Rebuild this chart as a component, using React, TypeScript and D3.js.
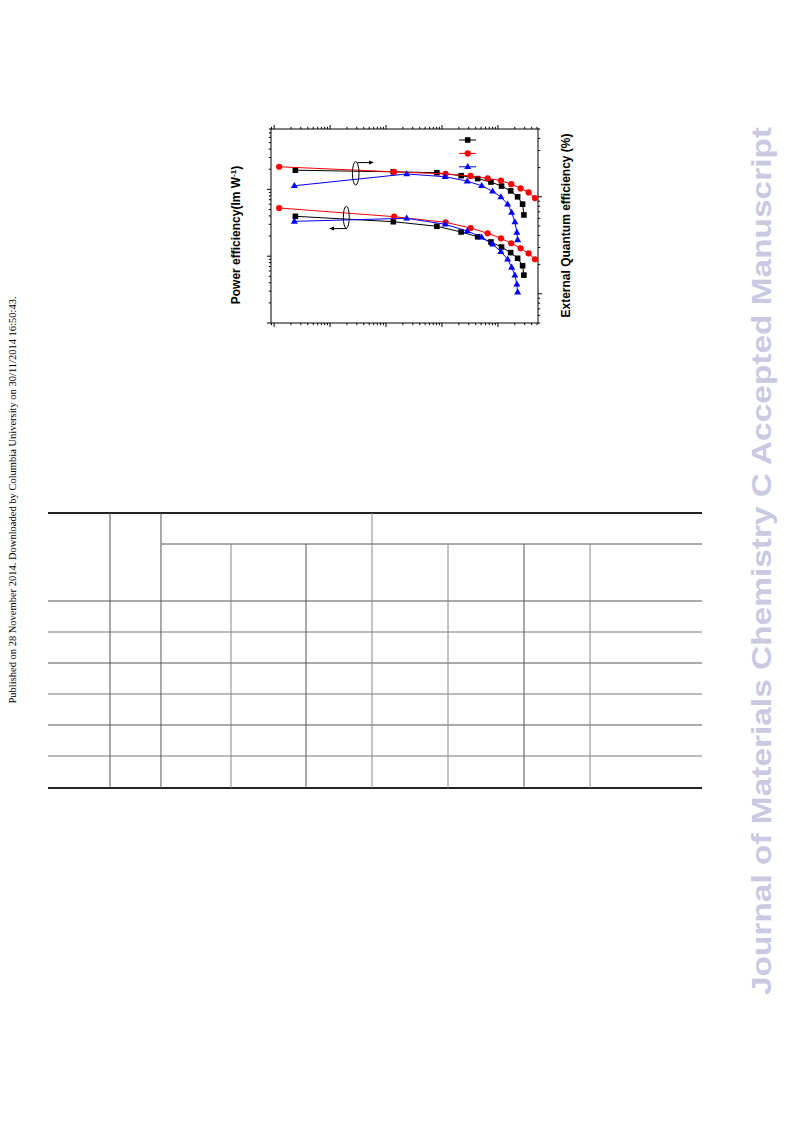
import React from "react";
import * as d3 from "d3";

const xBlack = [2.4, 135, 810, 2200, 4350, 7500, 11600, 16900, 22500, 27600, 29100];
const xRed = [1.23, 140, 1160, 3250, 6550, 11300, 17300, 25400, 35300, 45800];
const xBlue = [2.3, 234, 1140, 2830, 5120, 8040, 11300, 14900, 17600, 20100, 21800, 22500];

const eqeBlack = [18.8, 18.1, 17.7, 16.5, 15.4, 14.2, 12.9, 11.5, 10.0, 8.4, 6.5];
const eqeRed = [20.4, 18.1, 17.2, 16.4, 15.5, 14.7, 13.5, 12.2, 11.1, 9.7];
const eqeBlue = [13.0, 17.2, 16.1, 14.5, 13.0, 11.4, 9.95, 8.4, 6.9, 5.5, 4.3, 3.6];

const peBlack = [3.95, 3.28, 2.8, 2.3, 1.95, 1.63, 1.37, 1.13, 0.93, 0.72, 0.52];
const peRed = [5.26, 3.9, 3.21, 2.64, 2.2, 1.85, 1.56, 1.31, 1.1, 0.9];
const peBlue = [3.32, 3.69, 3.0, 2.38, 1.92, 1.51, 1.17, 0.9, 0.68, 0.52, 0.38, 0.29];

const xDomain = [0.88, 52000];
const peDomain = [0.1, 80];
const eqeDomain = [0.5, 50];

const leftTitle = "Power efficiency(lm W";
const rightTitle = "External Quantum efficiency (%)";
const sideNote =
  "Published on 28 November 2014. Downloaded by Columbia University on 30/11/2014 16:50:43.";
const watermark = "Journal of Materials Chemistry C Accepted Manuscript";

const RED = "#ff0000";
const BLUE = "#0000ff";
const BLACK = "#000000";

const plot = { left: 271, right: 538, top: 129, bottom: 323 };

const x = d3.scaleLog().domain(xDomain).range([plot.left, plot.right]);
const yPE = d3.scaleLog().domain(peDomain).range([plot.bottom, plot.top]);
const yEQE = d3.scaleLog().domain(eqeDomain).range([plot.bottom, plot.top]);

type Shape = "square" | "circle" | "triangle";

function Marker({ cx, cy, shape, color }: { cx: number; cy: number; shape: Shape; color: string }) {
  if (shape === "square") return <rect x={cx - 2.8} y={cy - 2.8} width={5.6} height={5.6} fill={color} />;
  if (shape === "circle") return <circle cx={cx} cy={cy} r={3.1} fill={color} />;
  const s = 7;
  const h = s * 0.866;
  return (
    <path
      d={`M${cx},${cy - h * 0.62} L${cx + s / 2},${cy + h * 0.38} L${cx - s / 2},${cy + h * 0.38} Z`}
      fill={color}
    />
  );
}

function Series({ xs, ys, scale, shape, color }: { xs: number[]; ys: number[]; scale: any; shape: Shape; color: string }) {
  const pts: [number, number][] = xs.map((v, i) => [x(v), scale(ys[i])]);
  const line = d3.line();
  return (
    <g>
      <path d={line(pts) || ""} fill="none" stroke={color} strokeWidth={1} />
      {pts.map((p, i) => (
        <Marker key={i} cx={p[0]} cy={p[1]} shape={shape} color={color} />
      ))}
    </g>
  );
}

const isMajor = (v: number) => Math.abs(Math.log10(v) - Math.round(Math.log10(v))) < 1e-9;

// table layout
const tableLeft = 48;
const tableRight = 702;
const tTop = 513;
const tSub = 544;
const tHead = 601;
const rowLines = [632, 663, 694, 725, 756];
const tBottom = 788;
const fullCols = [110, 161, 372];
const subCols = [231, 306, 448, 524, 590];

export default function App() {
  const xt = x.ticks().filter((v) => v >= xDomain[0] && v <= xDomain[1]);
  const pet = yPE.ticks().filter((v) => v >= peDomain[0] && v <= peDomain[1]);
  const eqt = yEQE.ticks().filter((v) => v >= eqeDomain[0] && v <= eqeDomain[1]);
  const font = "'Liberation Sans', Arial, Helvetica, sans-serif";
  const legendShapes: [Shape, string][] = [
    ["square", BLACK],
    ["circle", RED],
    ["triangle", BLUE],
  ];
  return (
    <svg
      width={793}
      height={1121}
      viewBox="0 0 793 1121"
      style={{ position: "absolute", left: 0, top: 0, background: "#fff" }}
    >
      <rect x={0} y={0} width={793} height={1121} fill="#fff" />

      {/* side note */}
      <text
        transform="translate(16,500) rotate(-90)"
        textAnchor="middle"
        fontFamily="'Liberation Serif', 'Times New Roman', serif"
        fontSize={10.5}
        fill="#000"
      >
        {sideNote}
      </text>

      {/* watermark */}
      <text
        transform="translate(771,561) rotate(-90)"
        textAnchor="middle"
        fontFamily={font}
        fontWeight="bold"
        fontSize={28}
        fill="#c9c9e2"
        textLength={868}
        lengthAdjust="spacingAndGlyphs"
      >
        {watermark}
      </text>

      {/* plot frame */}
      <rect
        x={plot.left}
        y={plot.top}
        width={plot.right - plot.left}
        height={plot.bottom - plot.top}
        fill="none"
        stroke="#000"
        strokeWidth={1}
      />

      {/* x ticks */}
      {xt.map((v, i) => {
        const px = x(v);
        const len = isMajor(v) ? 4 : 2.2;
        return (
          <g key={"xt" + i}>
            <line x1={px} x2={px} y1={plot.bottom} y2={plot.bottom + len} stroke="#000" strokeWidth={1} />
            <line x1={px} x2={px} y1={plot.top} y2={plot.top - len} stroke="#000" strokeWidth={1} />
          </g>
        );
      })}
      {/* left ticks */}
      {pet.map((v, i) => {
        const py = yPE(v);
        const len = isMajor(v) ? 4 : 2.2;
        return <line key={"pt" + i} x1={plot.left} x2={plot.left - len} y1={py} y2={py} stroke="#000" strokeWidth={1} />;
      })}
      {/* right ticks */}
      {eqt.map((v, i) => {
        const py = yEQE(v);
        const len = isMajor(v) ? 4 : 2.2;
        return <line key={"et" + i} x1={plot.right} x2={plot.right + len} y1={py} y2={py} stroke="#000" strokeWidth={1} />;
      })}

      {/* series */}
      <Series xs={xBlack} ys={eqeBlack} scale={yEQE} shape="square" color={BLACK} />
      <Series xs={xRed} ys={eqeRed} scale={yEQE} shape="circle" color={RED} />
      <Series xs={xBlue} ys={eqeBlue} scale={yEQE} shape="triangle" color={BLUE} />
      <Series xs={xBlack} ys={peBlack} scale={yPE} shape="square" color={BLACK} />
      <Series xs={xRed} ys={peRed} scale={yPE} shape="circle" color={RED} />
      <Series xs={xBlue} ys={peBlue} scale={yPE} shape="triangle" color={BLUE} />

      {/* annotations: ellipses with arrows */}
      <ellipse cx={355.7} cy={173.3} rx={3.3} ry={11.7} fill="none" stroke="#000" strokeWidth={1} />
      <line x1={357.5} x2={370} y1={162.6} y2={162.6} stroke="#000" strokeWidth={1} />
      <path d="M374,162.6 L369,160.6 L369,164.6 Z" fill="#000" />
      <ellipse cx={346.3} cy={217.2} rx={3} ry={11} fill="none" stroke="#000" strokeWidth={1} />
      <line x1={347} x2={333} y1={228.6} y2={228.6} stroke="#000" strokeWidth={1} />
      <path d="M329,228.6 L334,226.6 L334,230.6 Z" fill="#000" />

      {/* legend */}
      {legendShapes.map(([s, c], i) => (
        <g key={"lg" + i}>
          <line x1={459} x2={476} y1={140 + i * 13.4} y2={140 + i * 13.4} stroke={c} strokeWidth={1} />
          <Marker cx={467.7} cy={140 + i * 13.4} shape={s} color={c} />
        </g>
      ))}

      {/* axis titles */}
      <text
        transform="translate(240,235) rotate(-90)"
        textAnchor="middle"
        fontFamily={font}
        fontWeight="bold"
        fontSize={12}
        fill="#000"
      >
        {leftTitle}
        <tspan fontSize={8} dy={-4.5}>-1</tspan>
        <tspan dy={4.5}>)</tspan>
      </text>
      <text
        transform="translate(570,225.5) rotate(-90)"
        textAnchor="middle"
        fontFamily={font}
        fontWeight="bold"
        fontSize={12}
        fill="#000"
      >
        {rightTitle}
      </text>

      {/* table rules */}
      <line x1={tableLeft} x2={tableRight} y1={tTop} y2={tTop} stroke="#222" strokeWidth={2} />
      <line x1={161} x2={tableRight} y1={tSub} y2={tSub} stroke="#555" strokeWidth={1} />
      <line x1={tableLeft} x2={tableRight} y1={tHead} y2={tHead} stroke="#555" strokeWidth={1} />
      {rowLines.map((y, i) => (
        <line key={"rl" + i} x1={tableLeft} x2={tableRight} y1={y} y2={y} stroke={i % 2 === 0 ? "#777" : "#555"} strokeWidth={1} />
      ))}
      <line x1={tableLeft} x2={tableRight} y1={tBottom} y2={tBottom} stroke="#222" strokeWidth={2} />
      {fullCols.map((cx, i) => (
        <line key={"fc" + i} x1={cx} x2={cx} y1={tTop} y2={tBottom} stroke={i === 2 ? "#888" : "#555"} strokeWidth={1} />
      ))}
      {subCols.map((cx, i) => (
        <line key={"sc" + i} x1={cx} x2={cx} y1={tSub} y2={tBottom} stroke={i % 2 === 0 ? "#888" : "#555"} strokeWidth={1} />
      ))}
    </svg>
  );
}
